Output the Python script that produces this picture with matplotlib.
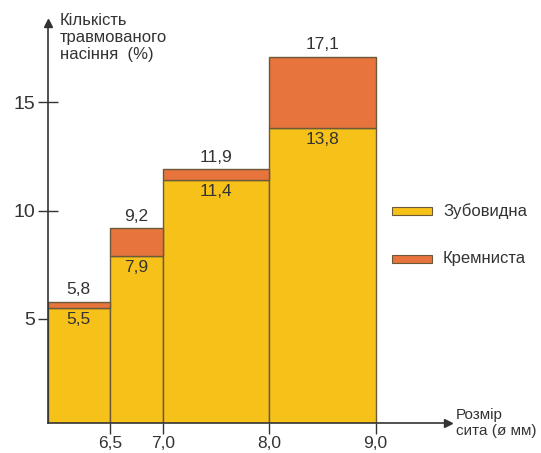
import matplotlib.pyplot as plt
from matplotlib.patches import Rectangle

plt.rcParams['font.family'] = ['Liberation Sans', 'DejaVu Sans']

# Sieve size class edges (mm) and seed damage percentages
edges = [5.92, 6.5, 7.0, 8.0, 9.0]
tick_pos = [6.5, 7.0, 8.0, 9.0]
tick_labels = ['6,5', '7,0', '8,0', '9,0']
zubovydna = [5.5, 7.9, 11.4, 13.8]
kremnysta = [5.8, 9.2, 11.9, 17.1]
series_names = ['Зубовидна', 'Кремниста']

yellow = '#F6C219'
orange = '#E6743C'
edge = '#6B5A3A'
ink = '#333333'

W, H = 541, 453
fig = plt.figure(figsize=(W / 100, H / 100), dpi=100)
ax = fig.add_axes([48 / W, (H - 423) / H, (448 - 48) / W, (423 - 23) / H])

lefts = edges[:-1]
widths = [b - a for a, b in zip(edges[:-1], edges[1:])]

# lower part: Зубовидна, upper part up to the Кремниста total
ax.bar(lefts, zubovydna, width=widths, align='edge', color=yellow,
       edgecolor=edge, linewidth=1.0, zorder=2)
ax.bar(lefts, [k - z for k, z in zip(kremnysta, zubovydna)], width=widths,
       bottom=zubovydna, align='edge', color=orange, edgecolor=edge,
       linewidth=1.0, zorder=2)

for x, w, z, k in zip(lefts, widths, zubovydna, kremnysta):
    cx = x + w / 2
    ax.annotate(f'{k:.1f}'.replace('.', ','), (cx, k), xytext=(0, 3),
                textcoords='offset points', ha='center', va='bottom',
                fontsize=12.5, color=ink)
    ax.annotate(f'{z:.1f}'.replace('.', ','), (cx, z), xytext=(0, -2.5),
                textcoords='offset points', ha='center', va='top',
                fontsize=12.5, color=ink)

ax.set_xlim(edges[0], 9.68)
ax.set_ylim(0.2, 18.65)

ax.set_xticks(tick_pos)
ax.set_xticklabels(tick_labels, fontsize=12.5, color=ink)
ax.set_yticks([5, 10, 15])
ax.set_yticklabels(['5', '10', '15'], fontsize=14, color=ink)
ax.tick_params(axis='x', direction='out', length=8, width=1.0, color=ink, pad=1)
ax.tick_params(axis='y', direction='inout', length=14, width=1.0, color=ink, pad=2)

for s in ['top', 'right']:
    ax.spines[s].set_visible(False)
for s in ['left', 'bottom']:
    ax.spines[s].set_color(ink)
    ax.spines[s].set_linewidth(1.2)
    ax.spines[s].set_zorder(3)

# arrow heads at the axis ends
ax.plot(1, 0, '>', color=ink, markersize=6, transform=ax.transAxes, clip_on=False)
ax.plot(0, 1, '^', color=ink, markersize=6, transform=ax.transAxes, clip_on=False)

fig.text(60 / W, 1 - 13 / H, 'Кількість\nтравмованого\nнасіння  (%)', ha='left',
         va='top', fontsize=12, color=ink, linespacing=1.15)
fig.text(456 / W, 1 - 408 / H, 'Розмір\nсита (ø мм)', ha='left', va='top',
         fontsize=11, color=ink, linespacing=1.2)

# legend drawn by hand next to the last bar
for name, col, yc in zip(series_names, [yellow, orange], [211, 259]):
    fig.add_artist(Rectangle((392 / W, 1 - (yc + 4) / H), 40 / W, 8 / H,
                             facecolor=col, edgecolor=edge, linewidth=0.8,
                             transform=fig.transFigure))
    fig.text(443 / W, 1 - yc / H, name, ha='left', va='center',
             fontsize=12, color=ink)

fig.savefig('out.png', dpi=100)
